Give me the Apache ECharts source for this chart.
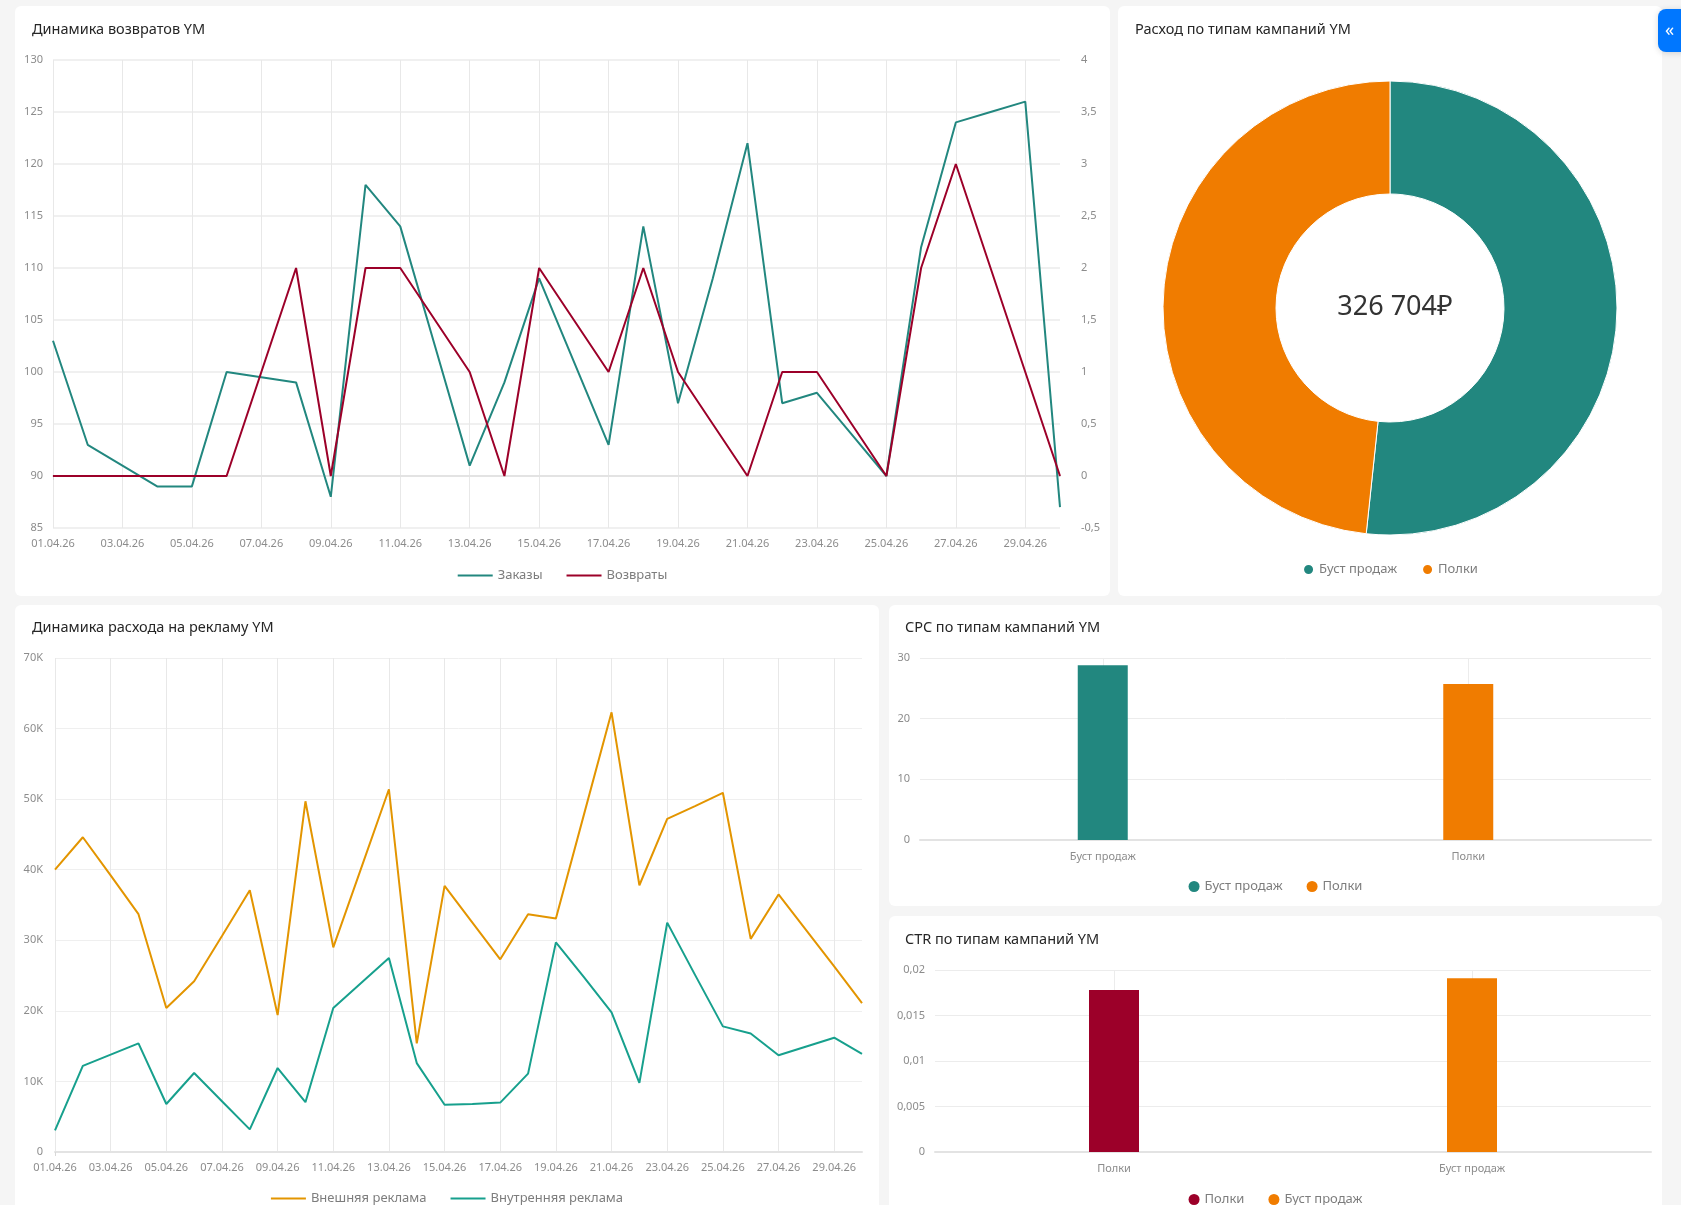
<!DOCTYPE html>
<html>
<head>
<meta charset="utf-8">
<script src="https://cdn.jsdelivr.net/npm/echarts@6/dist/echarts.min.js"></script>
<style>
  html, body { margin: 0; padding: 0; background: #f5f5f5; width: 1681px; height: 1205px; overflow: hidden; font-family: 'Noto Sans', sans-serif; }
  .card { position: absolute; background: #fff; border-radius: 6px; overflow: hidden; }
  .side-btn { position: absolute; left: 1658px; top: 9px; width: 32px; height: 43px; background: #0077ff; border-radius: 8px;
    box-shadow: 0 1px 6px rgba(0,0,0,.15); color: #fff; font-size: 18px; line-height: 40px; padding-left: 7px; box-sizing: border-box; }
</style>
</head>
<body>
<div class="card" id="returns" style="left:15px;top:6px;width:1095px;height:590px"></div>
<div class="card" id="spend" style="left:1118px;top:6px;width:544px;height:590px"></div>
<div class="card" id="ads" style="left:15px;top:605px;width:864px;height:620px"></div>
<div class="card" id="cpc" style="left:889px;top:605px;width:773px;height:301px"></div>
<div class="card" id="ctr" style="left:889px;top:916px;width:773px;height:309px"></div>
<div class="side-btn">«</div>
<script>
var days = ['01.04.26','02.04.26','03.04.26','04.04.26','05.04.26','06.04.26','07.04.26','08.04.26','09.04.26','10.04.26',
  '11.04.26','12.04.26','13.04.26','14.04.26','15.04.26','16.04.26','17.04.26','18.04.26','19.04.26','20.04.26',
  '21.04.26','22.04.26','23.04.26','24.04.26','25.04.26','26.04.26','27.04.26','28.04.26','29.04.26','30.04.26'];

// Динамика возвратов
var orders = [103, 93, 91, 89, 89, 100, 99.5, 99, 88, 118, 114, 102.5, 91, 99, 109, 101, 93, 114, 97, 109, 122, 97, 98, 94, 90, 112, 124, 125, 126, 87];
var returns = [0, 0, 0, 0, 0, 0, 1, 2, 0, 2, 2, 1.5, 1, 0, 2, 1.5, 1, 2, 1, 0.5, 0, 1, 1, 0.5, 0, 2, 3, 2, 1, 0];

// Расход на рекламу
var adExternal = [40000, 44600, 39200, 33700, 20400, 24200, 30600, 37100, 19400, 49700, 29000, 40200, 51400, 15400, 37700,
  32500, 27300, 33700, 33100, 47700, 62300, 37800, 47200, 49000, 50900, 30200, 36500, 31400, 26300, 21100];
var adInternal = [3060, 12200, 13800, 15400, 6800, 11200, 7200, 3200, 11900, 7060, 20400, 23950, 27500, 12600, 6700,
  6800, 7000, 11100, 29700, 24800, 19800, 9800, 32500, 25100, 17800, 16800, 13700, 14950, 16200, 13900];

// Расход по типам кампаний
var spendTypes = ['Буст продаж', 'Полки'];
var spendValues = [168810, 157894];

// CPC / CTR
var cpcTypes = ['Буст продаж', 'Полки'];
var cpcValues = [28.8, 25.7];
var ctrTypes = ['Полки', 'Буст продаж'];
var ctrValues = [0.0178, 0.0191];

var FONT = 'Noto Sans';
var TEAL = '#22877f';
var RED = '#9c0029';
var ORANGE = '#f07c00';
var AD_ORANGE = '#e39500';
var AD_TEAL = '#17a08d';
var LABEL = '#8c8c8c';
var LEGEND_TEXT = '#7d7d7d';

function comma(v) {
  return String(v).replace('.', ',');
}
function titleOpt(text, left, top) {
  return { text: text, left: left, top: top, textStyle: { fontFamily: FONT, fontSize: 14.5, fontWeight: 'normal', color: '#262626' } };
}
function legendOpt(top, names, icon) {
  var o = {
    top: top, left: 'center', itemGap: 24, data: names,
    textStyle: { fontFamily: FONT, fontSize: 13, color: LEGEND_TEXT }
  };
  if (icon === 'line') {
    o.icon = 'rect'; o.itemWidth = 35; o.itemHeight = 2;
  } else {
    o.icon = 'circle'; o.itemWidth = 11; o.itemHeight = 11;
  }
  return o;
}
function catAxis(data, margin, opts) {
  return Object.assign({
    type: 'category', data: data,
    axisLine: { lineStyle: { color: '#e3e3e3', width: 2 } },
    axisLabel: { color: LABEL, fontFamily: FONT, fontSize: 11, margin: margin },
    axisTick: { show: false }
  }, opts || {});
}
function dayAxis() {
  return catAxis(days, 10, {
    boundaryGap: false,
    axisLabel: { color: LABEL, fontFamily: FONT, fontSize: 11, margin: 10, interval: 1 },
    axisTick: { show: true, length: 4, lineStyle: { color: '#d8d8d8' }, interval: function (i) { return i === 0; } },
    splitLine: { show: true, interval: 1, lineStyle: { color: '#e8e8e8', width: 1 } }
  });
}

// 1. Динамика возвратов YM
var c1 = echarts.init(document.getElementById('returns'));
c1.setOption({
  animation: false,
  textStyle: { fontFamily: FONT },
  title: titleOpt('Динамика возвратов YM', 12, 11),
  legend: legendOpt(558, ['Заказы', 'Возвраты'], 'line'),
  grid: { left: 38, right: 50, top: 54, bottom: 68 },
  xAxis: dayAxis(),
  yAxis: [{
    type: 'value', min: 85, max: 130, interval: 5,
    axisLabel: { color: LABEL, fontSize: 11, margin: 10 },
    splitLine: { lineStyle: { color: '#f0f0f0', width: 2 } }
  }, {
    type: 'value', min: -0.5, max: 4, interval: 0.5,
    axisLabel: { color: LABEL, fontSize: 11, margin: 21, formatter: comma },
    splitLine: { show: false }
  }],
  series: [{
    name: 'Заказы', type: 'line', data: orders, yAxisIndex: 0,
    showSymbol: false, lineStyle: { color: TEAL, width: 2 }, itemStyle: { color: TEAL }
  }, {
    name: 'Возвраты', type: 'line', data: returns, yAxisIndex: 1,
    showSymbol: false, lineStyle: { color: RED, width: 2 }, itemStyle: { color: RED }
  }]
});

// 2. Расход по типам кампаний YM
var total = spendValues.reduce(function (a, b) { return a + b; }, 0);
var totalText = String(total).replace(/\B(?=(\d{3})+(?!\d))/g, ' ') + '₽';
var c2 = echarts.init(document.getElementById('spend'));
c2.setOption({
  animation: false,
  color: [TEAL, ORANGE],
  title: [titleOpt('Расход по типам кампаний YM', 12, 11), {
    text: totalText, left: 272, top: 296, textAlign: 'center', textVerticalAlign: 'middle',
    textStyle: { fontFamily: FONT, fontSize: 27, fontWeight: 'normal', color: '#333' }
  }],
  legend: legendOpt(552, spendTypes, 'circle'),
  series: [{
    type: 'pie', center: [272, 302], radius: [114, 227], startAngle: 90, clockwise: true,
    label: { show: false }, labelLine: { show: false },
    itemStyle: { borderColor: '#fff', borderWidth: 1 },
    data: spendTypes.map(function (n, i) { return { name: n, value: spendValues[i] }; })
  }]
});

// 3. Динамика расхода на рекламу YM
var c3 = echarts.init(document.getElementById('ads'));
c3.setOption({
  animation: false,
  textStyle: { fontFamily: FONT },
  title: titleOpt('Динамика расхода на рекламу YM', 12, 10),
  legend: legendOpt(582, ['Внешняя реклама', 'Внутренняя реклама'], 'line'),
  grid: { left: 40, right: 17, top: 53, bottom: 73 },
  xAxis: dayAxis(),
  yAxis: {
    type: 'value', min: 0, max: 70000, interval: 10000,
    axisLabel: { color: LABEL, fontSize: 11, margin: 12, formatter: function (v) { return v === 0 ? '0' : (v / 1000) + 'K'; } },
    splitLine: { lineStyle: { color: '#efefef', width: 1 } }
  },
  series: [{
    name: 'Внешняя реклама', type: 'line', data: adExternal,
    showSymbol: false, lineStyle: { color: AD_ORANGE, width: 2 }, itemStyle: { color: AD_ORANGE }
  }, {
    name: 'Внутренняя реклама', type: 'line', data: adInternal,
    showSymbol: false, lineStyle: { color: AD_TEAL, width: 2 }, itemStyle: { color: AD_TEAL }
  }]
});

// bar charts: one series per type, each sitting in its own category
function barSeries(types, values, colors) {
  return types.map(function (t, i) {
    return {
      name: t, type: 'bar', stack: 'one', barWidth: 50,
      itemStyle: { color: colors[i] },
      data: values.map(function (v, j) { return j === i ? v : '-'; })
    };
  });
}

// 4. CPC
var c4 = echarts.init(document.getElementById('cpc'));
c4.setOption({
  animation: false,
  textStyle: { fontFamily: FONT },
  title: titleOpt('CPC по типам кампаний YM', 11, 10),
  legend: legendOpt(270, cpcTypes, 'circle'),
  grid: { left: 31, right: 11, top: 53, bottom: 66 },
  xAxis: catAxis(cpcTypes, 11, {
    splitLine: { show: true, alignWithLabel: true, lineStyle: { color: '#ececec' } }
  }),
  yAxis: {
    type: 'value', min: 0, max: 30, interval: 10,
    axisLabel: { color: LABEL, fontSize: 11, margin: 10 },
    splitLine: { lineStyle: { color: '#ececec' } }
  },
  series: barSeries(cpcTypes, cpcValues, [TEAL, ORANGE])
});

// 5. CTR
var c5 = echarts.init(document.getElementById('ctr'));
c5.setOption({
  animation: false,
  textStyle: { fontFamily: FONT },
  title: titleOpt('CTR по типам кампаний YM', 11, 11),
  legend: legendOpt(272, ctrTypes, 'circle'),
  grid: { left: 46, right: 11, top: 54, bottom: 73 },
  xAxis: catAxis(ctrTypes, 11, {
    splitLine: { show: true, alignWithLabel: true, lineStyle: { color: '#ececec' } }
  }),
  yAxis: {
    type: 'value', min: 0, max: 0.02, interval: 0.005,
    axisLabel: { color: LABEL, fontSize: 11, margin: 10, formatter: comma },
    splitLine: { lineStyle: { color: '#ececec' } }
  },
  series: barSeries(ctrTypes, ctrValues, [RED, ORANGE])
});
</script>
</body>
</html>
